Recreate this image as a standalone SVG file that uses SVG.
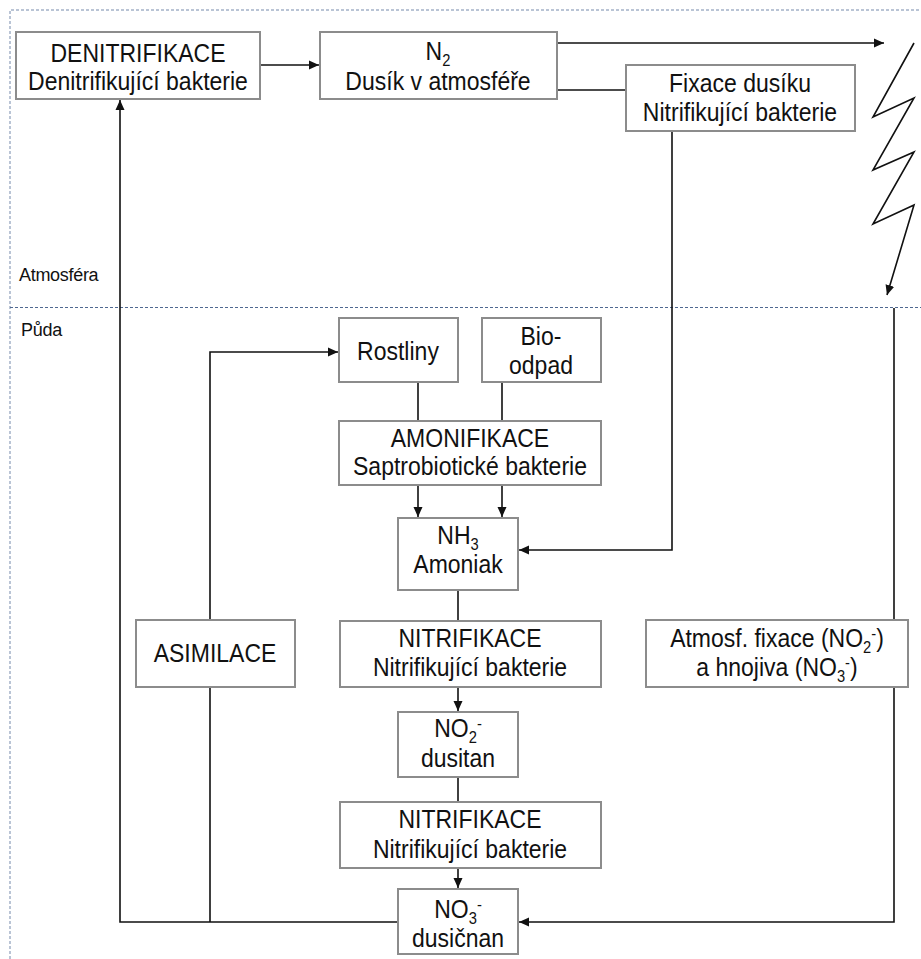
<svg xmlns="http://www.w3.org/2000/svg" width="921" height="959" viewBox="0 0 921 959">
<defs>
<style>
.box{fill:#fff;stroke:#8c8c8c;stroke-width:2}
.t{font-family:"Liberation Sans",Arial,sans-serif;font-size:25px;fill:#111;text-anchor:middle;transform-box:fill-box;transform-origin:center;transform:scaleX(0.92)}
.s{font-size:16px}
.lbl{font-family:"Liberation Sans",Arial,sans-serif;font-size:18px;fill:#111;letter-spacing:-0.3px}
.c{fill:none;stroke:#111;stroke-width:1.6}
.bd{fill:none;stroke:#7489ab;stroke-width:1;stroke-dasharray:3 2}
</style>
<marker id="ah" viewBox="0 0 10 10" refX="10" refY="5" markerWidth="10" markerHeight="10" markerUnits="userSpaceOnUse" orient="auto">
<path d="M0,0.5 L10,5 L0,9.5 z" fill="#111"/>
</marker>
</defs>
<rect width="921" height="959" fill="#fff"/>
<g id="border">
<path class="bd" d="M10,959 V10 H921"/>
<path class="bd" d="M10,307.5 H921" style="stroke:#4f6890"/>
<text class="lbl" x="19" y="281">Atmosféra</text>
<text class="lbl" x="21" y="336">Půda</text>
</g>
<g id="connectors">
<path class="c" d="M260,65 H319" marker-end="url(#ah)"/>
<path class="c" d="M557,43 H884" marker-end="url(#ah)"/>
<path class="c" d="M553,90 H626"/>
<path class="c" d="M672,131 V550 H519" marker-end="url(#ah)"/>
<polyline class="c" stroke-width="2.6" points="914,43 873,117 914,98 873,170 914,152 873,224 914,205 887,295" marker-end="url(#ah)"/>
<path class="c" d="M894,308 V922 H519" marker-end="url(#ah)"/>
<path class="c" d="M398,922 H120 V100" marker-end="url(#ah)"/>
<path class="c" d="M210,922 V352 H338" marker-end="url(#ah)"/>
<path class="c" d="M418,382 V421 M502,382 V421"/>
<path class="c" d="M418,485 V517" marker-end="url(#ah)"/>
<path class="c" d="M502,485 V517" marker-end="url(#ah)"/>
<path class="c" d="M458,590 V621"/>
<path class="c" d="M458,687 V711" marker-end="url(#ah)"/>
<path class="c" d="M458,777 V802"/>
<path class="c" d="M458,868 V888" marker-end="url(#ah)"/>
</g>
<g id="denitrifikace">
<rect class="box" x="16" y="32" width="244" height="67"/>
<text class="t" x="138" y="62">DENITRIFIKACE</text>
<text class="t" x="138" y="90">Denitrifikující bakterie</text>
</g>
<g id="n2">
<rect class="box" x="320" y="32" width="237" height="67"/>
<text class="t" x="438" y="60">N<tspan class="s" dy="6">2</tspan></text>
<text class="t" x="438" y="90">Dusík v atmosféře</text>
</g>
<g id="fixace">
<rect class="box" x="626" y="65" width="229" height="66"/>
<text class="t" x="740" y="92">Fixace dusíku</text>
<text class="t" x="740" y="121">Nitrifikující bakterie</text>
</g>
<g id="rostliny">
<rect class="box" x="339" y="318" width="119" height="64"/>
<text class="t" x="398" y="360">Rostliny</text>
</g>
<g id="bioodpad">
<rect class="box" x="482" y="318" width="119" height="64"/>
<text class="t" x="541" y="345">Bio-</text>
<text class="t" x="541" y="374">odpad</text>
</g>
<g id="amonifikace">
<rect class="box" x="339" y="421" width="262" height="64"/>
<text class="t" x="470" y="447">AMONIFIKACE</text>
<text class="t" x="470" y="475">Saptrobiotické bakterie</text>
</g>
<g id="nh3">
<rect class="box" x="398" y="518" width="120" height="72"/>
<text class="t" x="458" y="544">NH<tspan class="s" dy="6">3</tspan></text>
<text class="t" x="458" y="573">Amoniak</text>
</g>
<g id="asimilace">
<rect class="box" x="136" y="620" width="159" height="67"/>
<text class="t" x="215" y="662">ASIMILACE</text>
</g>
<g id="nitrifikace1">
<rect class="box" x="340" y="621" width="261" height="66"/>
<text class="t" x="470" y="647">NITRIFIKACE</text>
<text class="t" x="470" y="676">Nitrifikující bakterie</text>
</g>
<g id="atmosf">
<rect class="box" x="646" y="620" width="262" height="67"/>
<text class="t" x="777" y="647">Atmosf. fixace (NO<tspan class="s" dy="6">2</tspan><tspan class="s" dy="-14">-</tspan><tspan dy="8">)</tspan></text>
<text class="t" x="777" y="676">a hnojiva (NO<tspan class="s" dy="6">3</tspan><tspan class="s" dy="-14">-</tspan><tspan dy="8">)</tspan></text>
</g>
<g id="no2">
<rect class="box" x="398" y="712" width="120" height="65"/>
<text class="t" x="458" y="737">NO<tspan class="s" dy="6">2</tspan><tspan class="s" dy="-14">-</tspan></text>
<text class="t" x="458" y="767">dusitan</text>
</g>
<g id="nitrifikace2">
<rect class="box" x="340" y="802" width="261" height="66"/>
<text class="t" x="470" y="828">NITRIFIKACE</text>
<text class="t" x="470" y="858">Nitrifikující bakterie</text>
</g>
<g id="no3">
<rect class="box" x="398" y="889" width="120" height="65"/>
<text class="t" x="458" y="918">NO<tspan class="s" dy="6">3</tspan><tspan class="s" dy="-14">-</tspan></text>
<text class="t" x="458" y="947">dusičnan</text>
</g>
</svg>
